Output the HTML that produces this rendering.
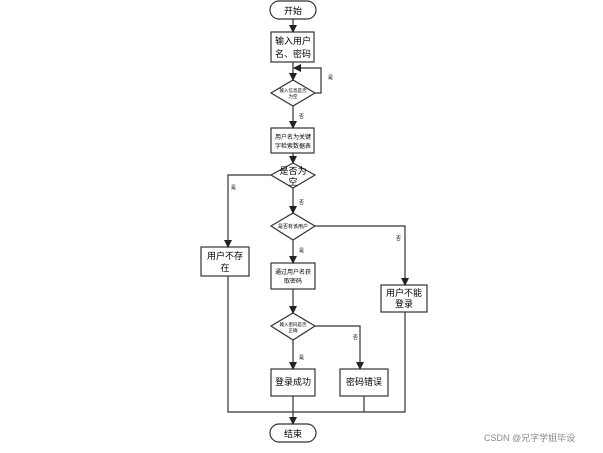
<!DOCTYPE html>
<html><head><meta charset="utf-8"><style>
body{margin:0;background:#fff;width:603px;height:448px;overflow:hidden;font-family:"Liberation Sans","Noto Sans CJK SC",sans-serif}
</style></head><body>
<svg width="603" height="448" xmlns="http://www.w3.org/2000/svg" font-family="Liberation Sans, Noto Sans CJK SC, sans-serif">
<defs><marker id="a" markerWidth="8" markerHeight="8" refX="7" refY="4" orient="auto" markerUnits="userSpaceOnUse"><path d="M0,0 L8,4 L0,8 z" fill="#222"/></marker></defs>
<g stroke="#333" stroke-width="1.2" fill="#fff">
<rect x="270" y="1" width="46" height="18" rx="9"/>
<rect x="271" y="32" width="43" height="30"/>
<polygon points="271,93 293,80 315,93 293,106"/>
<rect x="271" y="128" width="43" height="25"/>
<polygon points="271,175 293,163 315,175 293,188"/>
<rect x="201" y="247" width="48" height="29"/>
<polygon points="271,226 293,213 315,226 293,240"/>
<rect x="381" y="285" width="46" height="27"/>
<rect x="271" y="263" width="44" height="26"/>
<polygon points="271,326 293,313 315,326 293,340"/>
<rect x="271" y="369" width="44" height="27"/>
<rect x="340" y="369" width="48" height="27"/>
<rect x="270" y="424" width="46" height="18" rx="9"/>
</g>
<g stroke="#333" stroke-width="1.2" fill="none" marker-end="url(#a)">
<path d="M293,19 V32"/>
<path d="M293,62 V80"/>
<path d="M315,93 H321 V68 H294"/>
<path d="M293,106 V128"/>
<path d="M293,153 V163"/>
<path d="M271,175 H228 V247"/>
<path d="M293,188 V213"/>
<path d="M315,226 H405 V285"/>
<path d="M293,240 V263"/>
<path d="M293,289 V313"/>
<path d="M315,326 H360 V369"/>
<path d="M293,340 V369"/>
<path d="M293,396 V424"/>
</g>
<g stroke="#333" stroke-width="1.2" fill="none">
<path d="M228,276 V412 H405 V312"/>
<path d="M364,396 V412"/>
</g>
<g font-size="9" fill="#000" text-anchor="middle">
<text x="293" y="14">开始</text>
<text x="293" y="44">输入用户</text>
<text x="293" y="57">名、密码</text>
<text x="293" y="92" font-size="4.5">输入信息是否</text>
<text x="293" y="98" font-size="4.5">为空</text>
<text x="293" y="139" font-size="6">用户名为关键</text>
<text x="293" y="148" font-size="6">字检索数据表</text>
<text x="293" y="174" font-size="9">是否为</text>
<text x="293" y="185" font-size="9">空</text>
<text x="225" y="259">用户不存</text>
<text x="225" y="271">在</text>
<text x="293" y="228" font-size="5">是否有该用户</text>
<text x="404" y="296">用户不能</text>
<text x="404" y="307">登录</text>
<text x="293" y="274" font-size="6">通过用户名获</text>
<text x="293" y="283" font-size="6">取密码</text>
<text x="293" y="326" font-size="4.5">输入密码是否</text>
<text x="293" y="332" font-size="4.5">正确</text>
<text x="293" y="385">登录成功</text>
<text x="364" y="385">密码错误</text>
<text x="293" y="437">结束</text>
</g>
<g font-size="5" fill="#000">
<text x="328" y="79">是</text>
<text x="299" y="118">否</text>
<text x="231" y="189">是</text>
<text x="299" y="204">否</text>
<text x="396" y="240">否</text>
<text x="299" y="252">是</text>
<text x="353" y="339">否</text>
<text x="299" y="359">是</text>
</g>
<text x="484" y="441" font-size="9" fill="#888">CSDN @兄字学姐毕设</text>
</svg>
</body></html>
